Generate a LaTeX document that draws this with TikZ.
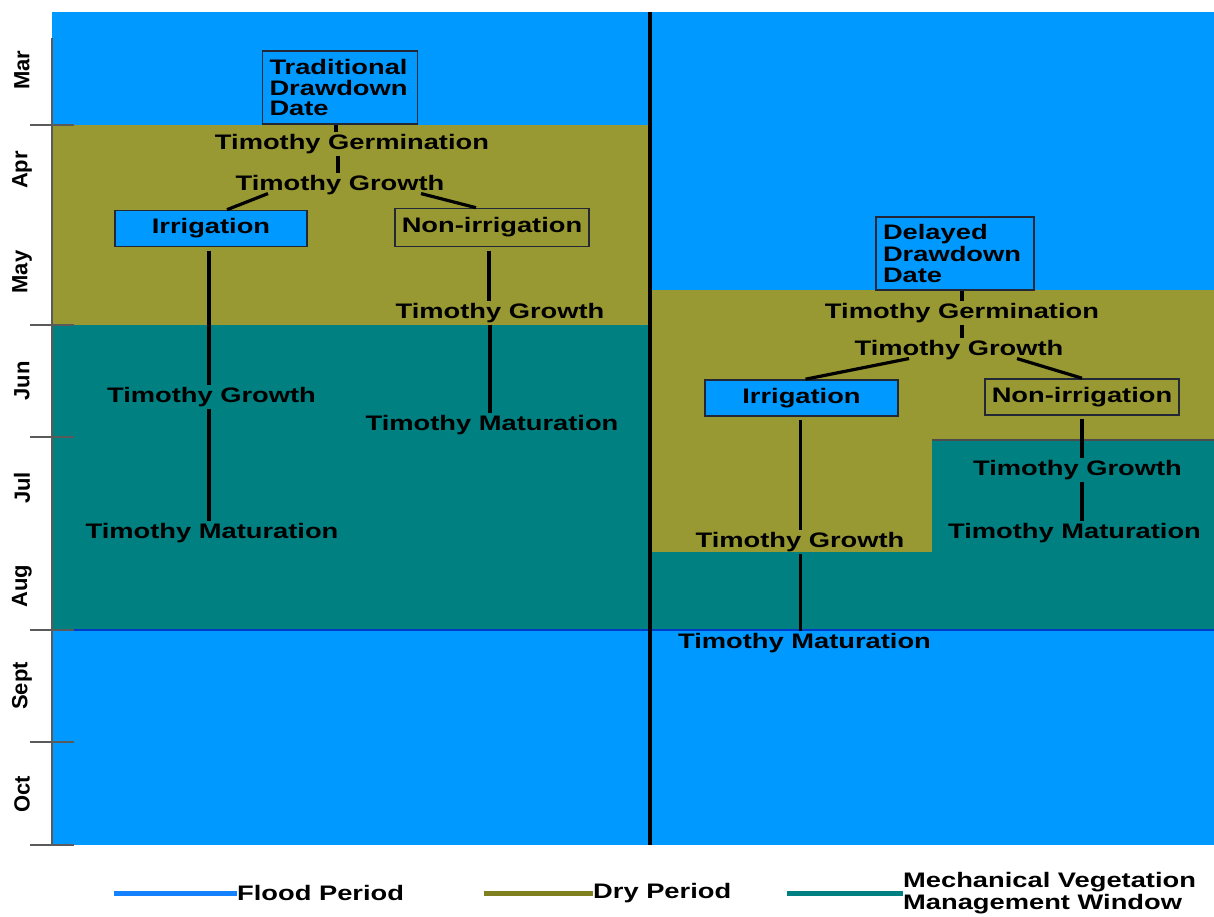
\documentclass[tikz,border=0pt]{standalone}
\usepackage{fontspec}
\newfontfamily\labfont{Liberation Sans}[FakeStretch=1.3]
\newfontfamily\monthfont{Liberation Sans}
\usetikzlibrary{calc}
\definecolor{flood}{RGB}{0,153,255}
\definecolor{dry}{RGB}{153,153,51}
\definecolor{mech}{RGB}{0,128,128}
\definecolor{boxedge}{RGB}{35,40,55}
\definecolor{sepblue}{RGB}{0,60,200}
\definecolor{tickgray}{RGB}{90,90,90}
\definecolor{legblue}{RGB}{20,130,255}
\definecolor{legdry}{RGB}{128,128,32}

\begin{document}
\begin{tikzpicture}[x=1pt,y=-1pt,
  txt/.style={font=\labfont\bfseries\fontsize{21}{20.5}\selectfont, inner xsep=0pt, inner ysep=2pt, anchor=base, text=black},
  datebox/.style={font=\labfont\bfseries\fontsize{21}{#1}\selectfont, draw=boxedge, line width=1.6pt, fill=flood,
                  align=left, inner xsep=7pt, inner ysep=0pt, minimum height=73pt},
  choice/.style={font=\labfont\bfseries\fontsize{21}{20.5}\selectfont, draw=boxedge, line width=1.6pt,
                 inner sep=0pt, minimum height=36pt, minimum width=193pt},
  link/.style={line width=3.2pt, black},
  month/.style={font=\monthfont\bfseries\fontsize{22}{22}\selectfont, rotate=90, inner sep=0pt},
  tick/.style={line width=1.8pt, tickgray},
  legline/.style={line width=5pt},
  legtxt/.style={font=\labfont\bfseries\fontsize{21}{21}\selectfont, inner sep=0pt, anchor=west, align=left}]

\useasboundingbox (0,0) rectangle (1214,916);
\fill[white] (0,0) rectangle (1214,916);

% ---- period bands: traditional drawdown (left half)
\fill[flood] (52,12)  rectangle (650,125);
\fill[dry]   (52,125) rectangle (650,325);
\fill[mech]  (52,325) rectangle (650,630);
\fill[flood] (52,630) rectangle (650,845);

% ---- period bands: delayed drawdown (right half)
\fill[flood] (650,12)  rectangle (1214,290);
\fill[dry]   (650,290) rectangle (1214,440);
\fill[dry]   (650,440) rectangle (932,552);
\fill[mech]  (932,440) rectangle (1214,630);
\fill[mech]  (650,552) rectangle (932,630);
\fill[flood] (650,630) rectangle (1214,845);

\draw[line width=1.2pt, black!70] (932,440) -- (1214,440);
\draw[line width=1.8pt, sepblue] (52,630) -- (1214,630);

% ---- month axis
\draw[line width=1.5pt, tickgray] (52,38) -- (52,845);
\foreach \yy in {125,325,437,630,742,845}
  \draw[tick] (30,\yy) -- (74,\yy);
\node[month] (mMar) at (22,70)  {Mar};
\node[month] (mApr) at (22,170) {Apr};
\node[month] (mMay) at (22,272) {May};
\node[month] (mJun) at (22,381) {Jun};
\node[month] (mJul) at (22,488) {Jul};
\node[month] (mAug) at (22,586) {Aug};
\node[month] (mSep) at (22,686) {Sept};
\node[month] (mOct) at (22,794) {Oct};

% ---- divider between the two scenarios
\draw[line width=3.2pt, black] (650,12) -- (650,845);

% ---- traditional drawdown tree
\node[datebox=20.5, text width=141pt] (trad) at (340,87.5) {Traditional\\Drawdown\\Date};
\node[txt] (tgerm) at (352,149) {Timothy Germination};
\node[txt] (tgrow) at (340,190) {Timothy Growth};
\node[choice, fill=flood, minimum width=192pt, minimum height=36pt] (irr) at (211,228.5) {Irrigation};
\node[choice, fill=dry, minimum width=194pt, minimum height=38pt] (non) at (492,227.5) {Non-irrigation};
\node[txt] (lgrowA) at (211.5,402) {Timothy Growth};
\node[txt] (lmatA)  at (212,538)   {Timothy Maturation};
\node[txt] (lgrowB) at (500,318)   {Timothy Growth};
\node[txt] (lmatB)  at (492,430)   {Timothy Maturation};

\draw[link] ([xshift=-4pt]trad.south) -- ([xshift=-4pt]trad.south |- tgerm.north);
\draw[link] ([xshift=-14pt]tgerm.south) -- ([xshift=-14pt]tgerm.south |- tgrow.north);
\draw[link] ([xshift=-72pt,yshift=3pt]tgrow.south) -- ([xshift=16pt]irr.north);
\draw[link] ([xshift=81pt,yshift=3pt]tgrow.south) -- ([xshift=-16pt]non.north);
\draw[link] ([xshift=-2pt,yshift=-4pt]irr.south) -- ([xshift=-2pt]irr.south |- lgrowA.north);
\draw[link] ([xshift=-2pt]irr.south |- lgrowA.south) -- ([xshift=-2pt]irr.south |- lmatA.north);
\draw[link] ([xshift=-3pt,yshift=-4pt]non.south) -- ([xshift=-3pt]non.south |- lgrowB.north);
\draw[link] ([xshift=-2pt]non.south |- lgrowB.south) -- ([xshift=-2pt]non.south |- lmatB.north);

% ---- delayed drawdown tree
\node[datebox=21.5, text width=144pt] (del) at (955,253.5) {Delayed\\Drawdown\\Date};
\node[txt] (rgerm) at (962,318) {Timothy Germination};
\node[txt] (rgrow) at (959,355) {Timothy Growth};
\node[choice, fill=flood, minimum width=193pt] (rirr) at (801.5,398) {Irrigation};
\node[choice, fill=dry, minimum width=194pt] (rnon) at (1082,397) {Non-irrigation};
\node[txt] (rgrowA) at (800,547)    {Timothy Growth};
\node[txt] (rmatA)  at (804.5,648)  {Timothy Maturation};
\node[txt] (rgrowB) at (1077.5,475) {Timothy Growth};
\node[txt] (rmatB)  at (1074.5,538) {Timothy Maturation};

\draw[link] ([xshift=7pt]del.south) -- ([xshift=7pt]del.south |- rgerm.north);
\draw[link] (rgerm.south) -- (rgerm.south |- rgrow.north);
\draw[link] ([xshift=-50pt,yshift=3pt]rgrow.south) -- ([xshift=4pt]rirr.north);
\draw[link] ([xshift=58pt,yshift=3pt]rgrow.south) -- ([xshift=0pt]rnon.north);
\draw[link] ([xshift=-1pt,yshift=-3pt]rirr.south) -- ([xshift=-1pt]rirr.south |- rgrowA.north);
\draw[link] ([xshift=-1pt]rirr.south |- rgrowA.south) -- ([xshift=-1pt]rirr.south |- rmatA.north);
\draw[link] ([yshift=-3pt]rnon.south) -- (rnon.south |- rgrowB.north);
\draw[link] (rnon.south |- rgrowB.south) -- (rnon.south |- rmatB.north);

% ---- legend
\node[legtxt] (lgFlood) at (237,893) {Flood Period};
\node[legtxt] (lgDry)   at (593,893) {Dry Period};
\node[legtxt, font=\labfont\bfseries\fontsize{21}{22}\selectfont] (lgMech) at (903,893) {Mechanical Vegetation\\Management Window};
\coordinate (kFlood) at (114,893);
\coordinate (kDry)   at (484,893);
\coordinate (kMech)  at (787,893);
\draw[legline, legblue] (kFlood) -- (kFlood -| lgFlood.west);
\draw[legline, legdry]  (kDry) -- (kDry -| lgDry.west);
\draw[legline, mech]    (kMech) -- (kMech -| lgMech.west);
\end{tikzpicture}
\end{document}
